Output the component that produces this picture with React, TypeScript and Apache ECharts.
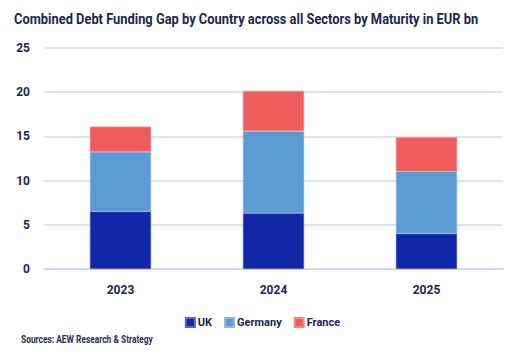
import React, { useEffect, useRef } from "react";
import * as echarts from "echarts";

const categories = ["2023", "2024", "2025"];
const ukValues = [6.5, 6.3, 4.0];
const germanyValues = [6.75, 9.3, 7.05];
const franceValues = [2.85, 4.55, 3.85];
const yTicks = { min: 0, max: 25, interval: 5 };

const FONT = "Roboto, 'Noto Sans', sans-serif";
const TEXT = "#1d2550";

export default function App() {
  const ref = useRef<HTMLDivElement>(null);
  useEffect(() => {
    const chart = echarts.init(ref.current!, null, { renderer: "svg" });
    const mk = (name: string, data: number[], color: string, border: string) => ({
      name,
      type: "bar",
      stack: "total",
      data,
      barWidth: "40%",
      itemStyle: { color, borderColor: border, borderWidth: 0.6 },
    });
    chart.setOption({
      animation: false,
      textStyle: { fontFamily: FONT },
      grid: { left: 44, right: 22, top: 48, bottom: 85, containLabel: false },
      xAxis: {
        type: "category",
        data: categories,
        axisLine: { lineStyle: { color: "#d3d9f2", width: 2 } },
        axisTick: { show: false },
        axisLabel: { fontFamily: FONT, fontSize: 12, fontWeight: "bold", color: TEXT, margin: 15 },
      },
      yAxis: {
        type: "value",
        min: yTicks.min,
        max: yTicks.max,
        interval: yTicks.interval,
        axisLine: { show: false },
        axisTick: { show: false },
        splitLine: { lineStyle: { color: "#d3d9f2", width: 1.5 } },
        axisLabel: { fontFamily: FONT, fontSize: 12, fontWeight: "bold", color: TEXT, margin: 14 },
      },
      legend: {
        bottom: 21,
        left: "center",
        itemWidth: 9,
        itemHeight: 9,
        itemGap: 12,
        icon: "rect",
        textStyle: { fontFamily: FONT, fontSize: 11, fontWeight: "bold", color: TEXT, padding: [0, 0, 0, -2] },
        data: ["UK", "Germany", "France"],
      },
      graphic: [
        {
          type: "text",
          x: 14,
          y: 12,
          scaleX: 0.92,
          style: {
            text: "Combined Debt Funding Gap by Country across all Sectors by Maturity in EUR bn",
            font: `bold 14px ${FONT}`,
            fill: TEXT,
          },
        },
        {
          type: "text",
          x: 21,
          y: 334,
          scaleX: 0.84,
          style: {
            text: "Sources: AEW Research & Strategy",
            font: `bold 10px ${FONT}`,
            fill: "#2a3050",
          },
        },
      ],
      series: [
        mk("UK", ukValues, "#1226a8", "#5a66c0"),
        mk("Germany", germanyValues, "#5b9bd5", "#8ab8e4"),
        mk("France", franceValues, "#f05b5b", "#f58a8a"),
      ],
    });
    return () => chart.dispose();
  }, []);
  return <div ref={ref} style={{ width: 525, height: 354, margin: -8 }} />;
}
